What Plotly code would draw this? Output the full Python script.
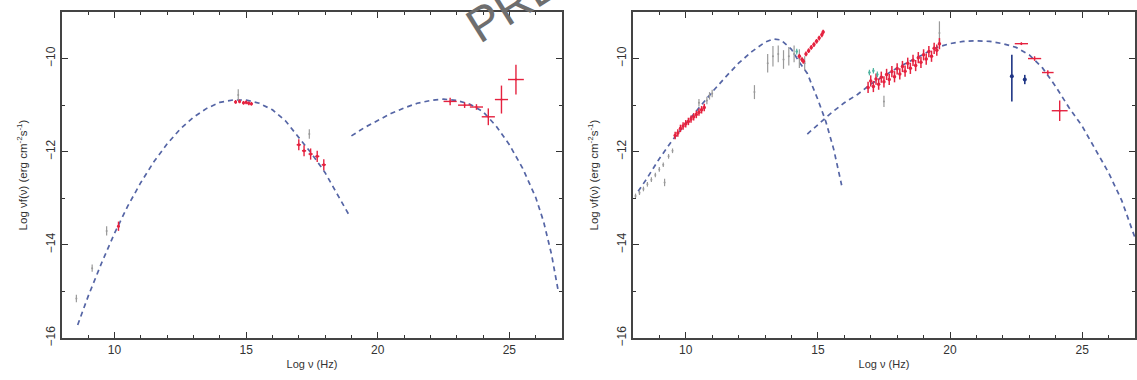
import plotly.graph_objects as go

# ---------------- Left panel ----------------
syncL_x = [8.6, 9.0, 9.5, 10.0, 10.5, 11.0, 11.5, 12.0, 12.5, 13.0, 13.5, 14.0, 14.5, 15.0,
           15.5, 16.0, 16.5, 17.0, 17.5, 18.0, 18.5, 18.9]
syncL_y = [-15.72, -15.10, -14.40, -13.75, -13.17, -12.66, -12.21, -11.83, -11.51, -11.26, -11.07,
           -10.94, -10.89, -10.89, -10.96, -11.10, -11.34, -11.70, -12.05, -12.45, -12.95, -13.35]
icL_x = [19.0, 19.5, 20.0, 20.5, 21.0, 21.5, 22.0, 22.5, 23.0, 23.5, 24.0, 24.5, 25.0, 25.5,
         26.0, 26.3, 26.6, 26.86]
icL_y = [-11.66, -11.48, -11.33, -11.18, -11.06, -10.96, -10.90, -10.87, -10.90, -10.98, -11.14,
         -11.45, -11.85, -12.35, -12.98, -13.50, -14.20, -15.00]

redL_x = [10.15, 14.6, 14.75, 14.9, 15.0, 15.1, 15.2, 17.0, 17.2, 17.45, 17.7, 17.95]
redL_y = [-13.60, -10.93, -10.92, -10.95, -10.94, -10.96, -10.97, -11.85, -11.98, -12.05, -12.10, -12.28]
redL_ex = [0.05, 0.05, 0.05, 0.05, 0.05, 0.05, 0.05, 0.08, 0.08, 0.08, 0.08, 0.08]
redL_ey = [0.10, 0.04, 0.04, 0.04, 0.04, 0.04, 0.04, 0.12, 0.12, 0.12, 0.12, 0.12]

gamL_x = [22.75, 23.3, 23.75, 24.2, 24.7, 25.25]
gamL_y = [-10.92, -11.00, -11.04, -11.25, -10.88, -10.45]
gamL_ex = [0.25, 0.25, 0.25, 0.25, 0.25, 0.30]
gamL_ey = [0.08, 0.06, 0.06, 0.18, 0.30, 0.32]

grayL_x = [8.55, 9.15, 9.7, 14.7, 17.4]
grayL_y = [-15.15, -14.50, -13.70, -10.78, -11.62]
grayL_ey = [0.08, 0.08, 0.10, 0.12, 0.10]

# ---------------- Right panel ----------------
syncR_x = [8.2, 8.5, 9.0, 9.5, 10.0, 10.5, 11.0, 11.5, 12.0, 12.5, 13.0, 13.3, 13.6, 14.0,
           14.3, 14.6, 15.0, 15.3, 15.6, 15.9]
syncR_y = [-12.85, -12.60, -12.15, -11.75, -11.40, -11.05, -10.72, -10.40, -10.10, -9.85, -9.65,
           -9.58, -9.60, -9.80, -10.08, -10.32, -10.88, -11.35, -11.95, -12.72]
icR_x = [14.6, 15.0, 15.5, 16.0, 16.5, 17.0, 17.5, 18.0, 18.5, 19.0, 19.5, 20.0, 20.5, 21.0,
         21.5, 22.0, 22.5, 23.0, 23.5, 24.0, 24.5, 25.0, 25.5, 26.0, 26.5, 27.0]
icR_y = [-11.62, -11.42, -11.17, -10.95, -10.77, -10.55, -10.38, -10.20, -10.05, -9.90, -9.76,
         -9.68, -9.63, -9.62, -9.63, -9.68, -9.76, -9.92, -10.20, -10.60, -11.05, -11.45, -11.95,
         -12.45, -13.05, -13.85]

grayR_x = [8.1, 8.25, 8.4, 8.55, 8.7, 8.85, 9.0, 9.15, 9.2, 9.35, 9.5, 10.5, 10.8, 10.9, 11.0,
           12.6, 13.1, 13.3, 13.5, 13.7, 13.9, 14.1, 14.3, 14.5, 17.5, 19.6]
grayR_y = [-12.95, -12.88, -12.80, -12.70, -12.60, -12.50, -12.38, -12.28, -12.66, -12.10, -11.98,
           -10.95, -10.90, -10.80, -10.75, -10.72, -10.10, -9.95, -9.90, -10.02, -9.95, -9.90,
           -10.00, -10.10, -10.92, -9.45]
grayR_ey = [0.05, 0.05, 0.05, 0.05, 0.05, 0.05, 0.05, 0.05, 0.08, 0.05, 0.05, 0.08, 0.08, 0.08,
            0.08, 0.15, 0.20, 0.22, 0.18, 0.20, 0.20, 0.18, 0.20, 0.15, 0.12, 0.25]

redR_x = [9.6, 9.7, 9.8, 9.9, 10.0, 10.1, 10.2, 10.3, 10.4, 10.5, 10.6, 10.7,
          14.3, 14.4, 14.45, 14.55, 14.65, 14.75, 14.85, 14.95, 15.05, 15.15, 15.2,
          16.9, 17.0, 17.1, 17.2, 17.3, 17.4, 17.5, 17.6, 17.7, 17.8, 17.9, 18.0, 18.1, 18.2,
          18.3, 18.4, 18.5, 18.6, 18.7, 18.8, 18.9, 19.0, 19.1, 19.2, 19.3, 19.4, 19.5, 19.6]
redR_y = [-11.65, -11.60, -11.50, -11.45, -11.40, -11.35, -11.30, -11.25, -11.20, -11.15, -11.10, -11.05,
          -9.95, -10.02, -10.06, -9.90, -9.83, -9.76, -9.70, -9.63, -9.56, -9.49, -9.43,
          -10.62, -10.48, -10.60, -10.44, -10.55, -10.40, -10.50, -10.34, -10.45, -10.28, -10.39,
          -10.22, -10.33, -10.17, -10.27, -10.10, -10.21, -10.04, -10.15, -9.98, -10.08, -9.92,
          -10.01, -9.85, -9.95, -9.78, -9.82, -9.68]
redR_ey = [0.08] * 12 + [0.05] * 11 + [0.12] * 28

tealR_x = [14.2, 16.95, 17.1, 17.25]
tealR_y = [-9.85, -10.30, -10.26, -10.34]

gamR_x = [22.7, 23.2, 23.7, 24.15]
gamR_y = [-9.68, -10.00, -10.30, -11.12]
gamR_ex = [0.25, 0.25, 0.22, 0.30]
gamR_ey = [0.03, 0.05, 0.05, 0.22]

blueR_x = [22.34, 22.83]
blueR_y = [-10.38, -10.45]
blueR_eyp = [0.46, 0.10]
blueR_eym = [0.54, 0.10]

RED = "#e5223f"
GRAY = "#9a9a9a"
CURVE = "#5565a5"
DASH = "5px,4px"

fig = go.Figure()


def curve(x, y, ax):
    fig.add_trace(go.Scatter(x=x, y=y, mode="lines", xaxis=ax[0], yaxis=ax[1],
                             line=dict(color=CURVE, width=1.7, dash=DASH), hoverinfo="skip"))


def pts(x, y, ax, color, ex=None, ey=None, eyp=None, eym=None, size=3, th=1.4):
    kw = {}
    if ex is not None:
        kw["error_x"] = dict(type="data", array=ex, color=color, thickness=th, width=0)
    if ey is not None:
        kw["error_y"] = dict(type="data", array=ey, color=color, thickness=th, width=0)
    if eyp is not None:
        kw["error_y"] = dict(type="data", array=eyp, arrayminus=eym, symmetric=False,
                             color=color, thickness=th, width=0)
    fig.add_trace(go.Scatter(x=x, y=y, mode="markers", xaxis=ax[0], yaxis=ax[1],
                             marker=dict(color=color, size=size), **kw))


L = ("x", "y")
R = ("x2", "y2")

curve(syncL_x, syncL_y, L)
curve(icL_x, icL_y, L)
pts(grayL_x, grayL_y, L, GRAY, ey=grayL_ey, size=2, th=1.2)
pts(redL_x, redL_y, L, RED, ex=redL_ex, ey=redL_ey, size=3)
pts(gamL_x, gamL_y, L, RED, ex=gamL_ex, ey=gamL_ey, size=2)

curve(syncR_x, syncR_y, R)
curve(icR_x, icR_y, R)
pts(grayR_x, grayR_y, R, GRAY, ey=grayR_ey, size=2, th=1.2)
pts(redR_x, redR_y, R, RED, ey=redR_ey, size=3.5, th=1.5)
pts(tealR_x, tealR_y, R, "#4fb3a0", ey=[0.06] * 4, size=2.5, th=1.2)
pts(gamR_x, gamR_y, R, RED, ex=gamR_ex, ey=gamR_ey, size=2)
pts(blueR_x, blueR_y, R, "#1f3585", eyp=blueR_eyp, eym=blueR_eym, size=4, th=1.6)

W = 1137.0
FONT = "Liberation Sans, Arial, sans-serif"
tickfont = dict(family=FONT, size=12, color="#333")
titlefont = dict(family=FONT, size=11, color="#333")

xcommon = dict(range=[8, 27], tick0=0, dtick=5, ticks="inside", ticklen=6, tickwidth=1.2,
               tickcolor="#333", showline=True, linecolor="#444", linewidth=1.5, mirror="ticks",
               showgrid=False, zeroline=False, tickfont=tickfont,
               minor=dict(ticks="inside", dtick=1, ticklen=3, tickcolor="#333", tickwidth=1),
               title=dict(text="Log ν (Hz)", font=titlefont, standoff=4))
ycommon = dict(range=[-16, -9], tick0=0, dtick=2, ticks="inside", ticklen=6, tickwidth=1.2,
               tickcolor="#333", showline=True, linecolor="#444", linewidth=1.5, mirror="ticks",
               showgrid=False, zeroline=False, tickfont=tickfont, tickangle=-90,
               minor=dict(ticks="inside", dtick=1, ticklen=3, tickcolor="#333", tickwidth=1),
               title=dict(text="Log νf(ν) (erg cm<sup>-2</sup>s<sup>-1</sup>)",
                          font=dict(family=FONT, size=11.5, color="#333"), standoff=14))

fig.update_layout(
    width=1137, height=380,
    margin=dict(l=0, r=0, t=12, b=42),
    paper_bgcolor="white", plot_bgcolor="white",
    showlegend=False,
    xaxis=dict(domain=[62 / W, 563 / W], anchor="y", **xcommon),
    yaxis=dict(domain=[0, 1], anchor="x", **ycommon),
    xaxis2=dict(domain=[634 / W, 1.0], anchor="y2", **xcommon),
    yaxis2=dict(domain=[0, 1], anchor="x2", **ycommon),
    annotations=[dict(text="PREVIEW", xref="paper", yref="paper", x=566 / W, y=1.125,
                      xanchor="center", yanchor="middle", showarrow=False, textangle=-32,
                      font=dict(family=FONT, size=48, color="#6e6e6e"))],
)

fig.write_html("out.html")
